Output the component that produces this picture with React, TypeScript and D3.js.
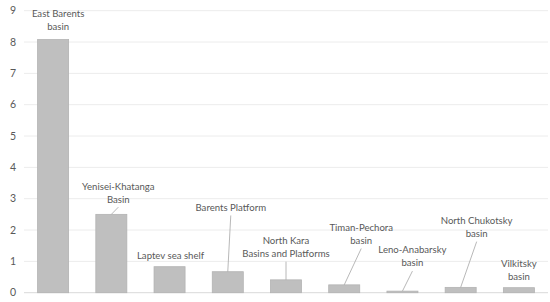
import * as d3 from "d3";

// Basins and their values
const basins = [
  "East Barents basin",
  "Yenisei-Khatanga Basin",
  "Laptev sea shelf",
  "Barents Platform",
  "North Kara Basins and Platforms",
  "Timan-Pechora basin",
  "Leno-Anabarsky basin",
  "North Chukotsky basin",
  "Vilkitsky basin",
];
const values = [8.08, 2.5, 0.83, 0.67, 0.41, 0.25, 0.05, 0.17, 0.16];
const yTicks = [0, 1, 2, 3, 4, 5, 6, 7, 8, 9];

// label text split into lines
const labelLines = [
  ["East Barents", "basin"],
  ["Yenisei-Khatanga", "Basin"],
  ["Laptev sea shelf"],
  ["Barents Platform"],
  ["North Kara", "Basins and Platforms"],
  ["Timan-Pechora", "basin"],
  ["Leno-Anabarsky", "basin"],
  ["North Chukotsky", "basin"],
  ["Vilkitsky", "basin"],
];
// where the first line of each label sits, in value units
const labelLevels = [8.9, 3.4, 1.17, 2.72, 1.66, 2.08, 1.36, 2.3, 0.94];
const labelShift = [5, 7, 1, 3, 0, 17, 10, 16, 0];
const hasLeader = [false, true, false, true, true, true, true, true, false];

const W = 550;
const H = 302;
const TEXT = "#595959";
const FONT = "Lato, 'Open Sans', sans-serif";

export default function App() {
  const x = d3.scaleBand<string>().domain(basins).range([24, 548]).paddingInner(0.45).paddingOuter(0.225);
  const y = d3.scaleLinear().domain([0, 9]).range([292.7, 10.7]);
  const lineH = 13;

  return (
    <div style={{ position: "fixed", left: 0, top: 0 }}>
      <svg width={W} height={H} style={{ display: "block", background: "#fff" }}>
        {yTicks.map((t) => (
          <g key={t}>
            <line x1={24} x2={548} y1={y(t)} y2={y(t)} stroke={t === 0 ? "#d9d9d9" : "#ececec"} strokeWidth={1} />
            <text x={13} y={y(t)} dy="0.35em" textAnchor="middle" fill={TEXT} fontSize={10.5} fontFamily={FONT}>
              {t}
            </text>
          </g>
        ))}
        {basins.map((b, i) => {
          const cx = x(b)! + x.bandwidth() / 2;
          const lx = cx + labelShift[i];
          const ly = y(labelLevels[i]);
          const lines = labelLines[i];
          const lastY = ly + (lines.length - 1) * lineH;
          return (
            <g key={b}>
              <rect
                x={x(b)! + 0.5}
                y={y(values[i])}
                width={x.bandwidth() - 1}
                height={y(0) - y(values[i])}
                fill="#bfbfbf"
                stroke="#b3b3b3"
                strokeWidth={0.8}
              />
              {lines.map((l, j) => (
                <text key={j} x={lx} y={ly + j * lineH} dy="0.35em" textAnchor="middle" fill={TEXT} fontSize={9.6} fontFamily={FONT}>
                  {l}
                </text>
              ))}
              {hasLeader[i] && (
                <line x1={lx} y1={lastY + 8} x2={cx} y2={y(values[i])} stroke="#a6a6a6" strokeWidth={0.8} />
              )}
            </g>
          );
        })}
      </svg>
    </div>
  );
}
